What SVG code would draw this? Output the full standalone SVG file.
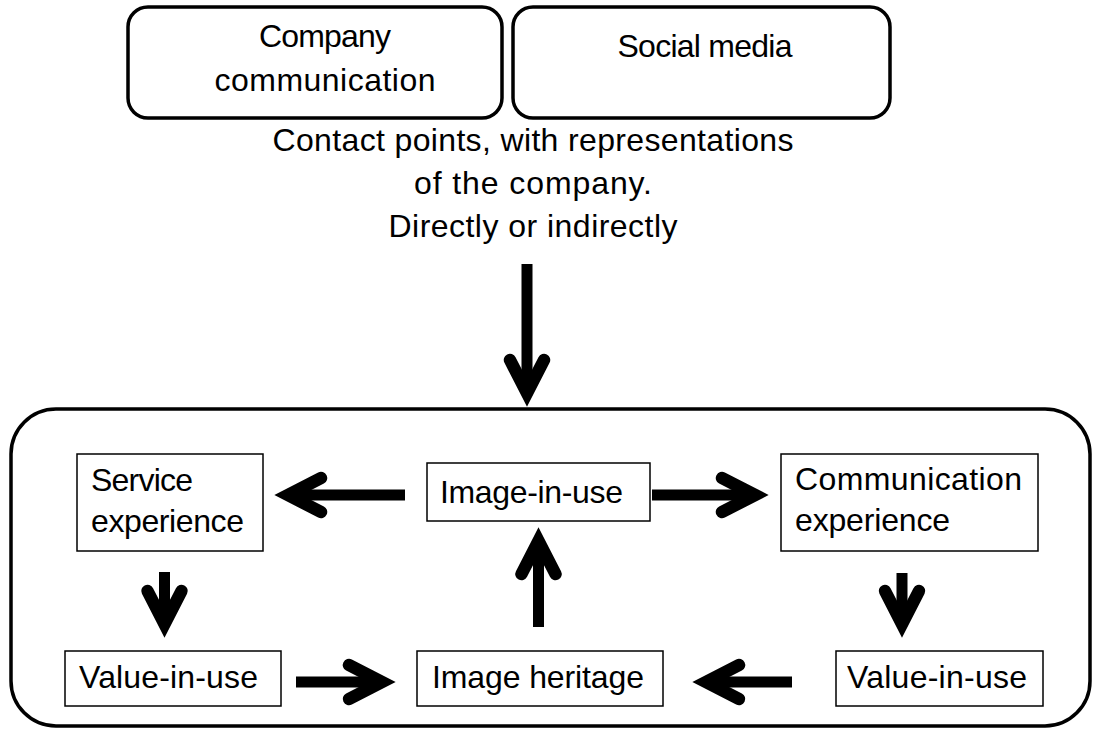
<svg xmlns="http://www.w3.org/2000/svg" width="1094" height="729" viewBox="0 0 1094 729">
  <defs>
    <marker id="head" markerUnits="userSpaceOnUse" orient="auto" refX="-8" refY="0" markerWidth="80" markerHeight="80" overflow="visible">
      <path d="M -33 -17 L 0 0 L -33 17" fill="none" stroke="#000" stroke-width="12.5" stroke-linecap="round" stroke-linejoin="miter" stroke-miterlimit="10"/>
    </marker>
  </defs>
  <style>
    .t { font-family: "Liberation Sans", Arial, sans-serif; font-size: 32px; fill: #000; }
    .c { text-anchor: middle; }
    .rbox { fill: #fff; stroke: #000; stroke-width: 3.5; }
    .box { fill: #fff; stroke: #000; stroke-width: 1.5; }
    .arr { fill: none; stroke: #000; stroke-width: 11; marker-end: url(#head); }
  </style>
  <rect width="1094" height="729" fill="#fff"/>

  <g id="company-communication">
    <rect class="rbox" x="128" y="7" width="374" height="111" rx="20"/>
    <text class="t c" x="325" y="47" textLength="132">Company</text>
    <text class="t c" x="325" y="91" textLength="221">communication</text>
  </g>
  <g id="social-media">
    <rect class="rbox" x="513" y="7" width="377" height="111" rx="20"/>
    <text class="t c" x="705" y="57" textLength="175">Social media</text>
  </g>
  <g id="contact-points">
    <text class="t c" x="533" y="151" textLength="521">Contact points, with representations</text>
    <text class="t c" x="533" y="194" textLength="238">of the company.</text>
    <text class="t c" x="533" y="237" textLength="289">Directly or indirectly</text>
  </g>

  <g id="container">
    <rect class="rbox" x="11" y="409" width="1079" height="317" rx="45"/>
  </g>

  <g id="service-experience">
    <rect class="box" x="77" y="454" width="186" height="97"/>
    <text class="t" x="91" y="491" textLength="102">Service</text>
    <text class="t" x="91" y="532" textLength="153">experience</text>
  </g>
  <g id="image-in-use">
    <rect class="box" x="427" y="463" width="223" height="58"/>
    <text class="t" x="440" y="503" textLength="183">Image-in-use</text>
  </g>
  <g id="communication-experience">
    <rect class="box" x="781" y="454" width="257" height="97"/>
    <text class="t" x="795" y="490" textLength="227">Communication</text>
    <text class="t" x="795" y="531" textLength="155">experience</text>
  </g>
  <g id="value-in-use-left">
    <rect class="box" x="65" y="651" width="216" height="55"/>
    <text class="t" x="79" y="688" textLength="179">Value-in-use</text>
  </g>
  <g id="image-heritage">
    <rect class="box" x="417" y="651" width="246" height="55"/>
    <text class="t" x="432" y="688" textLength="212">Image heritage</text>
  </g>
  <g id="value-in-use-right">
    <rect class="box" x="836" y="651" width="207" height="55"/>
    <text class="t" x="847" y="688" textLength="180">Value-in-use</text>
  </g>

  <g id="connectors">
    <path class="arr" d="M527 264 V385"/>
    <path class="arr" d="M405 495 H296"/>
    <path class="arr" d="M652 495 H747"/>
    <path class="arr" d="M164.5 572 V616"/>
    <path class="arr" d="M902 573 V616"/>
    <path class="arr" d="M296 682 H374"/>
    <path class="arr" d="M538.5 627 V549"/>
    <path class="arr" d="M792 682 H714"/>
  </g>
</svg>
